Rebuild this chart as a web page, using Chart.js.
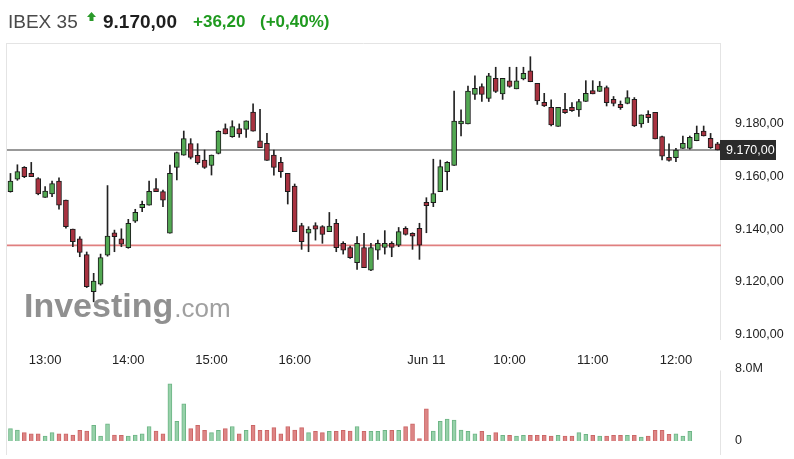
<!DOCTYPE html>
<html>
<head>
<meta charset="utf-8">
<script src="https://cdn.jsdelivr.net/npm/chart.js@4.4.0/dist/chart.umd.min.js"></script>
<style>
  body { margin: 0; background: #fff; font-family: "Liberation Sans", Arial, sans-serif; }
  #wrap { position: relative; width: 794px; height: 459px; overflow: hidden; }
  .hd { position: absolute; white-space: nowrap; line-height: 1; }
  #name { left: 8px; top: 12px; font-size: 19px; color: #4a4a4a; }
  #arrow { position: absolute; left: 87px; top: 12px; }
  #last { left: 103px; top: 12px; font-size: 19px; font-weight: bold; color: #1e1e1e; }
  #chg { left: 193px; top: 13px; font-size: 17px; font-weight: bold; color: #1f9a1f; }
  #pct { left: 260px; top: 13px; font-size: 17px; font-weight: bold; color: #1f9a1f; }
  #priceCanvas { position: absolute; left: 0; top: 0; }
  #volCanvas { position: absolute; left: 0; top: 355px; }
</style>
</head>
<body>
<div id="wrap">
  <canvas id="priceCanvas" width="794" height="368"></canvas>
  <canvas id="volCanvas" width="794" height="104"></canvas>
  <span class="hd" id="name">IBEX 35</span>
  <svg id="arrow" width="9" height="9" viewBox="0 0 9 9"><polygon points="4.5,0 9,5 6.5,5 6.5,9 2.5,9 2.5,5 0,5" fill="#2a9a2a"/></svg>
  <span class="hd" id="last">9.170,00</span>
  <span class="hd" id="chg">+36,20</span>
  <span class="hd" id="pct">(+0,40%)</span>
</div>
<script>
// velas de 5 minutos
const times = [
  "Jun 10 12:35","Jun 10 12:40","Jun 10 12:45","Jun 10 12:50","Jun 10 12:55",
  "Jun 10 13:00","Jun 10 13:05","Jun 10 13:10","Jun 10 13:15","Jun 10 13:20","Jun 10 13:25",
  "Jun 10 13:30","Jun 10 13:35","Jun 10 13:40","Jun 10 13:45","Jun 10 13:50","Jun 10 13:55",
  "Jun 10 14:00","Jun 10 14:05","Jun 10 14:10","Jun 10 14:15","Jun 10 14:20","Jun 10 14:25",
  "Jun 10 14:30","Jun 10 14:35","Jun 10 14:40","Jun 10 14:45","Jun 10 14:50","Jun 10 14:55",
  "Jun 10 15:00","Jun 10 15:05","Jun 10 15:10","Jun 10 15:15","Jun 10 15:20","Jun 10 15:25",
  "Jun 10 15:30","Jun 10 15:35","Jun 10 15:40","Jun 10 15:45","Jun 10 15:50","Jun 10 15:55",
  "Jun 10 16:00","Jun 10 16:05","Jun 10 16:10","Jun 10 16:15","Jun 10 16:20","Jun 10 16:25",
  "Jun 10 16:30","Jun 10 16:35","Jun 10 16:40","Jun 10 16:45","Jun 10 16:50","Jun 10 16:55",
  "Jun 10 17:00","Jun 10 17:05","Jun 10 17:10","Jun 10 17:15","Jun 10 17:20","Jun 10 17:25",
  "Jun 10 17:30",
  "Jun 11 09:00","Jun 11 09:05","Jun 11 09:10","Jun 11 09:15","Jun 11 09:20","Jun 11 09:25",
  "Jun 11 09:30","Jun 11 09:35","Jun 11 09:40","Jun 11 09:45","Jun 11 09:50","Jun 11 09:55",
  "Jun 11 10:00","Jun 11 10:05","Jun 11 10:10","Jun 11 10:15","Jun 11 10:20","Jun 11 10:25",
  "Jun 11 10:30","Jun 11 10:35","Jun 11 10:40","Jun 11 10:45","Jun 11 10:50","Jun 11 10:55",
  "Jun 11 11:00","Jun 11 11:05","Jun 11 11:10","Jun 11 11:15","Jun 11 11:20","Jun 11 11:25",
  "Jun 11 11:30","Jun 11 11:35","Jun 11 11:40","Jun 11 11:45","Jun 11 11:50","Jun 11 11:55",
  "Jun 11 12:00","Jun 11 12:05","Jun 11 12:10","Jun 11 12:15","Jun 11 12:20","Jun 11 12:25",
  "Jun 11 12:30"
];

const openP = [
  9154.2, 9158.9, 9163.4, 9161.1, 9159.2, 9152.0, 9153.3, 9158.2, 9151.0, 9140.0,
  9136.3, 9130.3, 9116.2, 9119.1, 9130.1, 9138.6, 9136.3, 9132.9, 9143.0, 9148.1,
  9149.1, 9155.4, 9154.2, 9138.4, 9163.4, 9168.0, 9172.4, 9168.0, 9166.2, 9164.1,
  9168.7, 9178.1, 9175.1, 9178.1, 9177.8, 9184.4, 9173.5, 9172.5, 9168.1, 9165.3,
  9161.1, 9156.3, 9141.3, 9138.4, 9141.3, 9140.9, 9139.0, 9142.2, 9134.6, 9133.0,
  9127.2, 9133.0, 9124.4, 9132.0, 9133.0, 9134.6, 9133.9, 9140.3, 9138.4, 9140.3,
  9150.1, 9150.0, 9154.2, 9161.8, 9164.1, 9179.9, 9179.9, 9191.1, 9194.1, 9189.6,
  9197.2, 9191.3, 9196.2, 9193.2, 9197.0, 9200.0, 9195.3, 9188.1, 9186.2, 9178.9,
  9185.4, 9186.2, 9185.2, 9188.4, 9192.5, 9192.2, 9193.7, 9189.2, 9187.3, 9187.7,
  9189.2, 9179.9, 9183.5, 9184.3, 9175.1, 9167.2, 9167.1, 9170.6, 9170.6, 9173.5,
  9177.2, 9174.4, 9172.3
];
const highP = [
  9161.1, 9164.4, 9163.7, 9165.3, 9159.5, 9156.1, 9158.2, 9159.4, 9151.0, 9140.0,
  9137.1, 9131.3, 9123.2, 9130.5, 9156.5, 9139.6, 9140.1, 9143.7, 9147.5, 9150.6,
  9158.2, 9159.2, 9154.8, 9164.3, 9169.2, 9177.2, 9174.3, 9172.4, 9170.0, 9168.1,
  9177.3, 9179.9, 9181.1, 9179.9, 9181.1, 9187.5, 9185.4, 9176.3, 9170.0, 9167.2,
  9161.1, 9157.1, 9142.2, 9140.9, 9142.4, 9141.3, 9146.3, 9143.7, 9135.2, 9133.5,
  9137.1, 9138.4, 9134.6, 9135.8, 9139.4, 9135.2, 9140.6, 9140.9, 9138.6, 9142.2,
  9151.9, 9166.5, 9166.2, 9165.6, 9192.4, 9185.2, 9194.3, 9198.1, 9195.1, 9199.1,
  9201.4, 9197.2, 9201.4, 9201.4, 9201.4, 9205.4, 9195.3, 9191.5, 9189.0, 9186.2,
  9191.5, 9188.0, 9189.2, 9196.3, 9196.3, 9196.0, 9194.3, 9190.3, 9188.6, 9192.5,
  9189.9, 9183.3, 9184.9, 9184.3, 9175.3, 9172.3, 9170.6, 9175.3, 9175.3, 9179.1,
  9179.1, 9176.3, 9172.9
];
const lowP = [
  9154.0, 9158.5, 9159.5, 9159.9, 9153.0, 9152.0, 9152.3, 9147.5, 9140.3, 9133.3,
  9129.5, 9117.8, 9112.4, 9118.7, 9129.7, 9131.4, 9133.3, 9132.7, 9142.5, 9146.6,
  9149.1, 9154.2, 9148.5, 9138.4, 9158.6, 9168.0, 9166.6, 9164.6, 9163.0, 9160.5,
  9168.5, 9176.1, 9174.8, 9174.8, 9174.8, 9177.1, 9170.9, 9166.0, 9160.4, 9159.6,
  9149.5, 9139.0, 9132.3, 9131.4, 9135.8, 9134.6, 9139.0, 9131.4, 9130.5, 9128.9,
  9124.7, 9125.3, 9124.2, 9128.5, 9130.5, 9129.5, 9133.3, 9137.7, 9132.3, 9128.5,
  9138.6, 9148.5, 9154.2, 9154.8, 9164.1, 9175.3, 9179.9, 9189.2, 9188.4, 9188.4,
  9191.8, 9189.2, 9193.8, 9193.2, 9196.6, 9195.9, 9187.3, 9186.5, 9179.1, 9178.9,
  9183.9, 9184.6, 9182.7, 9188.4, 9191.3, 9192.2, 9186.7, 9186.7, 9185.4, 9187.5,
  9178.9, 9178.6, 9180.4, 9174.2, 9166.2, 9165.8, 9165.6, 9170.6, 9170.3, 9173.5,
  9175.3, 9170.6, 9170.0
];
const closeP = [
  9158.2, 9161.8, 9159.9, 9159.9, 9153.3, 9154.4, 9157.3, 9149.1, 9140.9, 9135.2,
  9131.1, 9118.1, 9120.3, 9129.2, 9137.3, 9137.1, 9134.3, 9142.2, 9146.3, 9149.4,
  9154.3, 9154.2, 9151.0, 9161.1, 9169.0, 9174.3, 9167.2, 9165.2, 9163.4, 9168.1,
  9177.1, 9176.1, 9178.9, 9176.1, 9181.1, 9177.1, 9170.9, 9166.0, 9163.4, 9161.8,
  9154.2, 9139.0, 9135.2, 9140.0, 9140.0, 9138.0, 9141.1, 9132.9, 9132.0, 9129.1,
  9134.6, 9125.3, 9133.0, 9134.6, 9134.6, 9133.0, 9139.0, 9138.0, 9137.3, 9133.9,
  9148.9, 9153.5, 9163.7, 9165.3, 9181.0, 9181.0, 9192.4, 9193.4, 9191.1, 9198.1,
  9192.2, 9197.2, 9194.1, 9196.2, 9199.1, 9195.9, 9188.6, 9186.7, 9179.5, 9186.2,
  9184.2, 9184.9, 9188.4, 9191.5, 9191.3, 9194.3, 9188.0, 9187.7, 9186.1, 9189.9,
  9179.1, 9183.3, 9182.3, 9174.2, 9167.7, 9166.0, 9170.0, 9172.5, 9174.8, 9176.3,
  9175.3, 9170.9, 9170.0
];
// volumen en millones
const volume = [
  1.36, 1.20, 0.92, 0.80, 0.80, 0.55, 0.92, 0.80, 0.80, 0.66,
  1.17, 1.10, 1.72, 0.55, 1.90, 0.66, 0.62, 0.55, 0.66, 0.80,
  1.60, 1.10, 0.80, 6.30, 2.16, 4.10, 1.36, 1.72, 1.17, 0.92,
  1.17, 1.36, 1.60, 0.80, 1.17, 1.72, 1.17, 1.17, 1.47, 0.80,
  1.60, 1.20, 1.47, 0.92, 1.06, 0.92, 1.06, 1.06, 1.17, 1.10,
  1.60, 1.06, 1.06, 1.06, 1.17, 1.17, 1.17, 1.58, 1.90, 0.26,
  3.55, 1.10, 2.16, 2.42, 2.30, 1.20, 1.06, 0.80, 1.06, 0.62,
  0.92, 0.62, 0.62, 0.55, 0.62, 0.62, 0.62, 0.62, 0.55, 0.62,
  0.55, 0.55, 0.92, 0.73, 0.62, 0.55, 0.55, 0.62, 0.62, 0.62,
  0.62, 0.44, 0.55, 1.17, 1.17, 0.73, 0.80, 0.55, 1.06, null,
  null, null, null
];

const priceTicks = [9100, 9120, 9140, 9160, 9180];
const volTicks = [0, 8];
const lastPrice = 9170;
const prevClose = 9133.8;

const up = closeP.map((c, i) => c >= openP[i]);

function fmtPrice(v) {
  const [ent, dec] = v.toFixed(2).split(".");
  return ent.replace(/\B(?=(\d{3})+(?!\d))/g, ".") + "," + dec;
}

// etiqueta del eje x: horas en punto y la fecha al abrir sesion
function timeLabel(i) {
  const [mon, day, hm] = times[i].split(" ");
  if (i > 0 && times[i - 1].slice(0, 6) !== times[i].slice(0, 6)) return mon + " " + day;
  if (!hm.endsWith(":00")) return "";
  // sin hueco suficiente antes del cambio de dia
  for (let k = i + 1; k < Math.min(times.length, i + 12); k++) {
    if (times[k].slice(0, 6) !== times[i].slice(0, 6)) return "";
  }
  return hm;
}

const fontFam = "'Liberation Sans', Arial, sans-serif";

// lineas de referencia, marca de agua y marco
const priceDecor = {
  id: "priceDecor",
  beforeDatasetsDraw(chart) {
    const { ctx, chartArea: a, scales } = chart;
    ctx.save();
    // marca de agua
    ctx.fillStyle = "#909090";
    ctx.font = "bold 34px " + fontFam;
    ctx.textBaseline = "alphabetic";
    ctx.fillText("Investing", 24, 317);
    const w = ctx.measureText("Investing").width;
    ctx.fillStyle = "#a0a0a0";
    ctx.font = "26px " + fontFam;
    ctx.fillText(".com", 24 + w + 1, 317);
    // marco
    ctx.strokeStyle = "#e4e4e4";
    ctx.lineWidth = 1;
    ctx.beginPath();
    ctx.moveTo(a.left - 0.5, a.top + 0.5);
    ctx.lineTo(a.right - 0.5, a.top + 0.5);
    ctx.moveTo(a.left - 0.5, a.top);
    ctx.lineTo(a.left - 0.5, chart.height);
    ctx.moveTo(a.right - 0.5, a.top);
    ctx.lineTo(a.right - 0.5, a.bottom);
    ctx.stroke();
    // cierre anterior y ultimo precio
    const yPrev = scales.y.getPixelForValue(prevClose);
    const yLast = scales.y.getPixelForValue(lastPrice);
    ctx.lineWidth = 1.6;
    ctx.strokeStyle = "#e07f7f";
    ctx.beginPath();
    ctx.moveTo(a.left, yPrev);
    ctx.lineTo(a.right, yPrev);
    ctx.stroke();
    ctx.strokeStyle = "#777";
    ctx.beginPath();
    ctx.moveTo(a.left, yLast);
    ctx.lineTo(a.right, yLast);
    ctx.stroke();
    ctx.restore();
  },
  afterDraw(chart) {
    const { ctx, chartArea: a, scales } = chart;
    const yLast = scales.y.getPixelForValue(lastPrice);
    ctx.save();
    ctx.fillStyle = "#2b2b2b";
    ctx.fillRect(a.right - 1, yLast - 10, 56, 20);
    ctx.fillStyle = "#fff";
    ctx.font = "12.5px " + fontFam;
    ctx.textBaseline = "middle";
    ctx.fillText(fmtPrice(lastPrice), a.right + 5, yLast + 0.5);
    ctx.restore();
  }
};

new Chart(document.getElementById("priceCanvas"), {
  type: "bar",
  data: {
    labels: times,
    datasets: [
      {
        label: "cuerpo",
        data: openP.map((o, i) => [o, closeP[i]]),
        backgroundColor: up.map(u => u ? "#52a852" : "#a83240"),
        borderColor: "#1b1b1b",
        borderWidth: 1,
        borderSkipped: false,
        barThickness: 5,
        grouped: false,
        order: 0
      },
      {
        label: "mecha",
        data: lowP.map((l, i) => [l, highP[i]]),
        backgroundColor: "#222",
        barThickness: 1,
        grouped: false,
        order: 1
      }
    ]
  },
  options: {
    responsive: false,
    animation: false,
    layout: { padding: { left: 7, top: 43, right: 0, bottom: 0 } },
    plugins: { legend: { display: false }, tooltip: { enabled: false } },
    scales: {
      x: {
        grid: { display: false },
        border: { display: false },
        ticks: {
          autoSkip: false,
          maxRotation: 0,
          padding: 5,
          color: "#222",
          font: { family: fontFam, size: 13 },
          callback: (v, i) => timeLabel(i)
        },
        afterFit: s => { s.height = 28; }
      },
      y: {
        position: "right",
        min: 9097.9,
        max: 9210.6,
        grid: { display: false },
        border: { display: false },
        afterBuildTicks: s => { s.ticks = priceTicks.map(v => ({ value: v })); },
        ticks: {
          padding: 6,
          color: "#222",
          font: { family: fontFam, size: 12.5 },
          callback: v => fmtPrice(v)
        },
        afterFit: s => { s.width = 73; }
      }
    }
  },
  plugins: [priceDecor]
});

const volDecor = {
  id: "volDecor",
  beforeDatasetsDraw(chart) {
    const { ctx, chartArea: a } = chart;
    ctx.save();
    ctx.strokeStyle = "#e4e4e4";
    ctx.lineWidth = 1;
    ctx.beginPath();
    ctx.moveTo(a.left - 0.5, 0);
    ctx.lineTo(a.left - 0.5, a.bottom + 14);
    ctx.moveTo(a.right - 0.5, a.top + 2);
    ctx.lineTo(a.right - 0.5, a.bottom + 14);
    ctx.stroke();
    ctx.restore();
  }
};

new Chart(document.getElementById("volCanvas"), {
  type: "bar",
  data: {
    labels: times,
    datasets: [{
      label: "volumen",
      data: volume,
      backgroundColor: up.map(u => u ? "#97d1aa" : "#dd8585"),
      borderColor: up.map(u => u ? "#6db585" : "#cc6666"),
      borderWidth: 1,
      barThickness: 4
    }]
  },
  options: {
    responsive: false,
    animation: false,
    layout: { padding: { left: 7, top: 13, right: 0, bottom: 18 } },
    plugins: { legend: { display: false }, tooltip: { enabled: false } },
    scales: {
      x: { display: false },
      y: {
        position: "right",
        min: 0,
        max: 8,
        grid: { display: false },
        border: { display: false },
        afterBuildTicks: s => { s.ticks = volTicks.map(v => ({ value: v })); },
        ticks: {
          padding: 6,
          color: "#222",
          font: { family: fontFam, size: 12.5 },
          callback: v => v === 0 ? "0" : v.toFixed(1) + "M"
        },
        afterFit: s => { s.width = 73; }
      }
    }
  },
  plugins: [volDecor]
});
</script>
</body>
</html>
